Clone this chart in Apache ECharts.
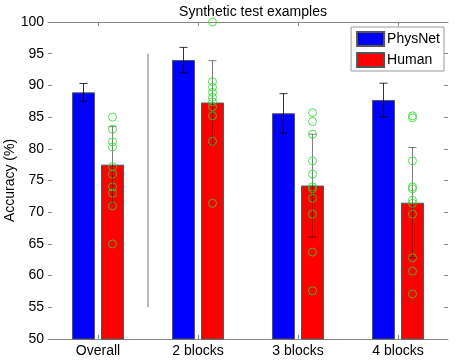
<!DOCTYPE html>
<html>
<head>
<meta charset="utf-8">
<script src="https://cdn.jsdelivr.net/npm/echarts@6/dist/echarts.min.js"></script>
<style>
html, body { margin: 0; padding: 0; background: #fff; }
#chart { width: 457px; height: 362px; }
</style>
</head>
<body>
<div id="chart"></div>
<script>
// data
const categories = ['Overall', '2 blocks', '3 blocks', '4 blocks'];
const physnetMean = [88.9, 94.0, 85.6, 87.7];
const physnetErr = [1.4, 2.0, 3.1, 2.65];
const humanMean = [77.5, 87.3, 74.2, 71.5];
const humanErr = [6.0, 6.6, 8.1, 8.7];
const humanPoints = [
    [85, 83.1, 81.1, 80.3, 77.2, 76, 74, 73, 71, 65],
    [100, 90.6, 89.7, 88.9, 88.1, 87.4, 86.6, 85.2, 81.2, 71.4],
    [85.7, 84.3, 82.3, 78.1, 76.0, 74.0, 73.7, 72.2, 69.7, 63.7, 57.6],
    [85.2, 84.9, 78.1, 74.0, 73.7, 71.9, 71.4, 69.7, 62.8, 60.7, 57.1]
];
const yTicks = { min: 50, max: 100, step: 5 };
const separator = [[1, 55], [1, 95]];

const font = 'Liberation Sans, Arial, sans-serif';
const barOffset = 0.145; // half bar pitch, in category units

let chart = echarts.init(document.getElementById('chart'));

function errData(means, errs, shift) {
    return means.map((m, i) => [i + 0.5 + shift, m - errs[i], m + errs[i]]);
}

function renderErr(color) {
    return function (params, api) {
        let x = api.value(0);
        let lo = api.coord([x, api.value(1)]);
        let hi = api.coord([x, api.value(2)]);
        let w = 4;
        let style = { stroke: color, lineWidth: 1 };
        return {
            type: 'group',
            children: [
                { type: 'line', shape: { x1: lo[0], y1: lo[1], x2: hi[0], y2: hi[1] }, style: style },
                { type: 'line', shape: { x1: lo[0] - w, y1: lo[1], x2: lo[0] + w, y2: lo[1] }, style: style },
                { type: 'line', shape: { x1: hi[0] - w, y1: hi[1], x2: hi[0] + w, y2: hi[1] }, style: style }
            ]
        };
    };
}

let scatterData = [];
humanPoints.forEach((pts, i) => {
    pts.forEach((v) => {
        scatterData.push([i + 0.5 + barOffset, v]);
    });
});

const tickStyle = { color: '#888', width: 1 };

let option = {
    animation: false,
    textStyle: { fontFamily: font },
    title: {
        text: 'Synthetic test examples',
        left: 248,
        textAlign: 'center',
        top: 0,
        textStyle: { fontSize: 14, fontWeight: 'normal', color: '#000', fontFamily: font }
    },
    legend: {
        orient: 'vertical',
        right: 13,
        top: 27,
        padding: [4, 4, 3, 5],
        itemGap: 5,
        itemWidth: 27,
        itemHeight: 14,
        backgroundColor: '#fff',
        borderColor: '#999',
        borderWidth: 1,
        borderRadius: 0,
        icon: 'rect',
        data: ['PhysNet', 'Human'],
        textStyle: { fontSize: 14, color: '#000', fontFamily: font, padding: [0, 0, 0, -2] }
    },
    grid: { left: 48, right: 9, top: 22, bottom: 23, outerBoundsMode: 'none', containLabel: false },
    xAxis: [
        {
            type: 'category',
            data: categories,
            position: 'bottom',
            axisLine: { show: true, lineStyle: { color: '#888' } },
            axisTick: { show: true, inside: true, length: 4, alignWithLabel: true, lineStyle: tickStyle },
            axisLabel: { fontSize: 14, color: '#000', margin: 5, fontFamily: font },
            splitLine: { show: false }
        },
        {
            type: 'category',
            data: categories,
            position: 'top',
            axisLine: { show: true, lineStyle: { color: '#888' } },
            axisTick: { show: true, inside: true, length: 4, alignWithLabel: true, lineStyle: tickStyle },
            axisLabel: { show: false },
            splitLine: { show: false }
        },
        {
            type: 'value',
            min: 0,
            max: 4,
            show: false
        }
    ],
    yAxis: [
        {
            type: 'value',
            min: yTicks.min,
            max: yTicks.max,
            interval: yTicks.step,
            name: 'Accuracy (%)',
            nameLocation: 'middle',
            nameGap: 31,
            nameMoveOverlap: false,
            nameTextStyle: { fontSize: 14, color: '#000', fontFamily: font },
            axisLine: { show: false },
            axisTick: { show: true, inside: true, length: 4, lineStyle: tickStyle },
            axisLabel: { fontSize: 14, color: '#000', margin: 4, fontFamily: font },
            splitLine: { show: false }
        },
        {
            type: 'value',
            min: yTicks.min,
            max: yTicks.max,
            interval: yTicks.step,
            position: 'right',
            axisLine: { show: false },
            axisTick: { show: true, inside: true, length: 4, lineStyle: tickStyle },
            axisLabel: { show: false },
            splitLine: { show: false }
        }
    ],
    series: [
        {
            name: 'PhysNet',
            type: 'bar',
            xAxisIndex: 0,
            data: physnetMean,
            barWidth: 23,
            barGap: '26%',
            itemStyle: { color: '#0000ff', borderColor: '#555', borderWidth: 1 }
        },
        {
            name: 'Human',
            type: 'bar',
            xAxisIndex: 0,
            data: humanMean,
            barWidth: 23,
            barGap: '26%',
            itemStyle: { color: '#ff0000', borderColor: '#555', borderWidth: 1 }
        },
        {
            type: 'custom',
            xAxisIndex: 2,
            renderItem: renderErr('rgba(0,0,0,0.8)'),
            data: errData(physnetMean, physnetErr, -barOffset),
            z: 5
        },
        {
            type: 'custom',
            xAxisIndex: 2,
            renderItem: renderErr('rgba(0,0,0,0.5)'),
            data: errData(humanMean, humanErr, barOffset),
            z: 5
        },
        {
            type: 'scatter',
            xAxisIndex: 2,
            data: scatterData,
            symbol: 'circle',
            symbolSize: 8,
            itemStyle: { color: 'rgba(0,0,0,0)', borderColor: '#22dd22', borderWidth: 1 },
            z: 6
        },
        {
            type: 'line',
            xAxisIndex: 2,
            data: separator,
            symbol: 'none',
            lineStyle: { color: '#777', width: 1 },
            z: 4
        }
    ]
};
chart.setOption(option);
</script>
</body>
</html>
